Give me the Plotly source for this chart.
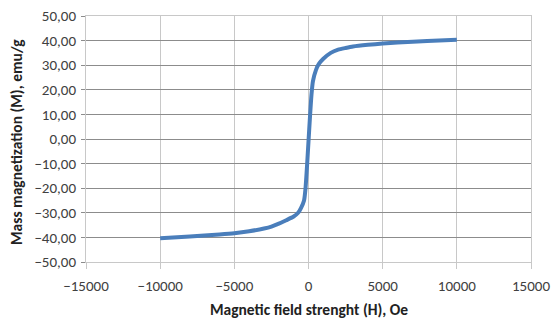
import plotly.graph_objects as go

# Magnetic field H (Oe) and mass magnetization M (emu/g)
field_h = [-10000, -8000, -6000, -5000, -4000, -3000, -2500, -2000, -1500, -1000,
           -700, -500, -300, -200, -100, 0, 100, 200, 300, 500, 700, 1000, 1500,
           2000, 2500, 3000, 4000, 5000, 6000, 8000, 10000]
magnetization = [-40.3, -39.6, -38.8, -38.3, -37.5, -36.4, -35.6, -34.4, -33.0, -31.5,
                 -30.0, -28.0, -25.0, -20.0, -11.0, -1.0, 9.0, 18.0, 23.5, 28.0, 30.5,
                 32.6, 35.0, 36.3, 37.0, 37.6, 38.3, 38.8, 39.2, 39.8, 40.3]

x_ticks = [-15000, -10000, -5000, 0, 5000, 10000, 15000]
y_ticks = [-50, -40, -30, -20, -10, 0, 10, 20, 30, 40, 50]

x_title = "Magnetic field strenght (H), Oe"
y_title = "Mass magnetization (M), emu/g"

fig = go.Figure()
fig.add_trace(go.Scatter(
    x=field_h, y=magnetization, mode="lines",
    line=dict(color="#4a7ebb", width=4, shape="spline", smoothing=0.6),
    showlegend=False, hoverinfo="skip",
))

font_family = "Carlito, Calibri, Lato, 'Open Sans', sans-serif"

fig.update_layout(
    width=554, height=320,
    margin=dict(l=86, r=23, t=16, b=58),
    paper_bgcolor="white", plot_bgcolor="white",
    separators=", ",
    font=dict(family=font_family, size=15, color="#404040"),
    xaxis=dict(
        range=[-15000, 15000], tickvals=x_ticks, tickformat="d",
        showgrid=True, gridcolor="#c8c8c8", gridwidth=1,
        zeroline=False, showline=True, linecolor="#c8c8c8", mirror=True,
        ticks="outside", ticklen=6, tickcolor="#c8c8c8",
        ticklabelstandoff=4, automargin=False, ticklabeloverflow="allow",
    ),
    yaxis=dict(
        range=[-50, 50], tickvals=y_ticks, tickformat=".2f",
        showgrid=True, gridcolor="#8c8c8c", gridwidth=1,
        zeroline=False, showline=True, linecolor="#c8c8c8", mirror=True,
        ticks="outside", ticklen=4, tickcolor="#8c8c8c",
        ticklabelstandoff=2, automargin=False, ticklabeloverflow="allow",
    ),
    annotations=[
        dict(text="<b>%s</b>" % x_title, xref="paper", yref="paper",
             x=0.5, y=-0.195, xanchor="center", yanchor="middle",
             showarrow=False, font=dict(size=15.5, color="#222222")),
        dict(text="<b>%s</b>" % y_title, xref="paper", yref="paper",
             x=-0.155, y=0.488, xanchor="center", yanchor="middle",
             textangle=-90, showarrow=False,
             font=dict(size=15.5, color="#222222")),
    ],
)

# drop the browser's default 8px body margin so the figure sits at the page corner
fig.write_html("out.html",
               config={"displayModeBar": False},
               post_script="document.body.style.margin='0';")
